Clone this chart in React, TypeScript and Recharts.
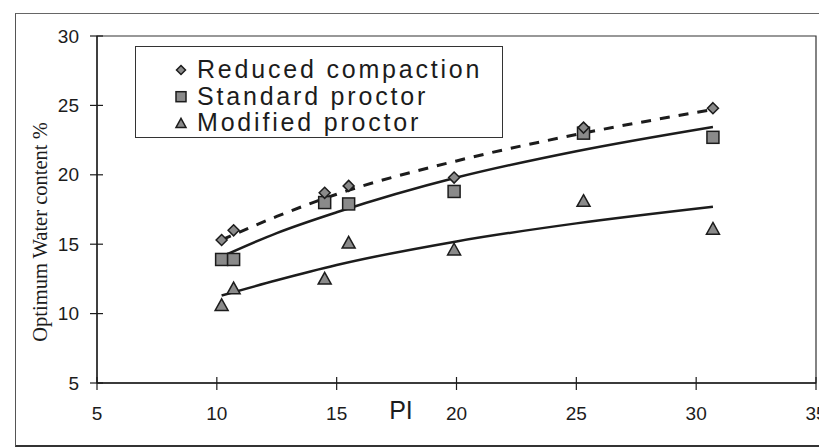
import React from "react";
import {
  ComposedChart,
  Line,
  Scatter,
  XAxis,
  YAxis,
  Legend,
  Label,
  ReferenceArea,
} from "recharts";

// PI on the x axis, optimum water content (%) on the y axis
const piValues = [10.2, 10.7, 14.5, 15.5, 19.9, 25.3, 30.7];
const reducedCompaction = [15.3, 16.0, 18.7, 19.2, 19.8, 23.4, 24.8];
const standardProctor = [13.9, 13.9, 18.0, 17.9, 18.8, 23.0, 22.7];
const modifiedProctor = [10.6, 11.8, 12.5, 15.1, 14.6, 18.1, 16.1];

// trend curves
const trendPI = [10.2, 12.5, 15, 20, 25, 30.7];
const reducedTrend = [15.3, 17.0, 18.6, 21.0, 22.9, 24.7];
const standardTrend = [14.1, 15.8, 17.3, 19.8, 21.7, 23.45];
const modifiedTrend = [11.3, 12.4, 13.5, 15.2, 16.5, 17.7];

const seriesNames = ["Reduced compaction", "Standard proctor", "Modified proctor"];
const xTicks = [5, 10, 15, 20, 25, 30, 35];
const yTicks = [5, 10, 15, 20, 25, 30];

const toPoints = (xs: number[], ys: number[]) => xs.map((x, i) => ({ x, y: ys[i] }));

const INK = "#1c1c1c";
const MARK_FILL = "#8a8a8a";
const SANS = "'Liberation Sans', Arial, sans-serif";

function Diamond({ cx, cy, s = 5.5 }: any) {
  return (
    <path
      d={`M${cx},${cy - s}L${cx + s},${cy}L${cx},${cy + s}L${cx - s},${cy}Z`}
      fill={MARK_FILL}
      stroke={INK}
      strokeWidth={1.5}
    />
  );
}

function Square({ cx, cy, s = 6 }: any) {
  return (
    <rect x={cx - s} y={cy - s} width={s * 2} height={s * 2} fill={MARK_FILL} stroke={INK} strokeWidth={1.5} />
  );
}

function Triangle({ cx, cy, s = 6.5 }: any) {
  return (
    <path
      d={`M${cx},${cy - s}L${cx + s},${cy + s * 0.8}L${cx - s},${cy + s * 0.8}Z`}
      fill={MARK_FILL}
      stroke={INK}
      strokeWidth={1.5}
    />
  );
}

const shapes = [Diamond, Square, Triangle];
const legendSizes = [4.5, 5, 5];

function XTick({ x, y, payload }: any) {
  return (
    <g>
      <line x1={x} x2={x} y1={y - 6} y2={y + 7} stroke={INK} strokeWidth={1.2} />
      <text x={x} y={y + 30} textAnchor="middle" dy="0.35em" fontSize={19} fontFamily={SANS} fill={INK}>
        {payload.value}
      </text>
    </g>
  );
}

function YTick({ x, y, payload }: any) {
  return (
    <g>
      <line x1={x - 7} x2={x + 6} y1={y} y2={y} stroke={INK} strokeWidth={1.2} />
      <text x={x - 18} y={y} textAnchor="end" dy="0.35em" fontSize={19} fontFamily={SANS} fill={INK}>
        {payload.value}
      </text>
    </g>
  );
}

function LegendBox() {
  return (
    <svg width={368} height={92}>
      {seriesNames.map((name, i) => {
        const Shape = shapes[i];
        const base = 31 + i * 26.7;
        return (
          <g key={name}>
            <Shape cx={45} cy={base - 8} s={legendSizes[i]} />
            <text x={61} y={base} fontSize={25} fontFamily={SANS} letterSpacing={2.8} fill={INK}>
              {name}
            </text>
          </g>
        );
      })}
    </svg>
  );
}

export default function App() {
  const reduced = toPoints(piValues, reducedCompaction);
  const standard = toPoints(piValues, standardProctor);
  const modified = toPoints(piValues, modifiedProctor);

  return (
    <div style={{ position: "absolute", left: 0, top: 0, width: 819, height: 448, background: "#fff", overflow: "hidden" }}>
      <div
        style={{
          position: "absolute",
          left: 15,
          top: 13,
          width: 810,
          height: 431,
          borderLeft: "1px solid #555",
          borderTop: "1px solid #666",
          borderBottom: "2px solid #333",
        }}
      />
      <ComposedChart
        width={819}
        height={448}
        margin={{ top: 36, right: 3, bottom: 0, left: 0 }}
        style={{ position: "absolute", left: 0, top: 0 }}
      >
        <XAxis
          type="number"
          dataKey="x"
          domain={[5, 35]}
          ticks={xTicks}
          interval={0}
          height={65}
          tickLine={false}
          tickSize={0}
          tickMargin={0}
          tick={<XTick />}
          axisLine={{ stroke: INK, strokeWidth: 1.3 }}
        >
          <Label
            content={() => (
              <text x={401} y={410} textAnchor="middle" dy="0.35em" fontSize={25} fontFamily={SANS} fill={INK}>
                PI
              </text>
            )}
          />
        </XAxis>
        <YAxis
          type="number"
          dataKey="y"
          domain={[5, 30]}
          ticks={yTicks}
          interval={0}
          width={97}
          tickLine={false}
          tickSize={0}
          tickMargin={0}
          tick={<YTick />}
          axisLine={{ stroke: INK, strokeWidth: 1.3 }}
        >
          <Label
            content={() => (
              <text
                x={40}
                y={232}
                transform="rotate(-90 40 232)"
                textAnchor="middle"
                dy="0.35em"
                fontSize={20.5}
                fontFamily="'Liberation Serif', 'Times New Roman', serif"
                fill={INK}
              >
                Optimum Water content %
              </text>
            )}
          />
        </YAxis>
        <ReferenceArea x1={5} x2={35} y1={5} y2={30} fill="none" stroke="#333" strokeWidth={1.2} />
        <Line
          data={toPoints(trendPI, reducedTrend)}
          dataKey="y"
          type="monotone"
          stroke={INK}
          strokeWidth={3}
          strokeDasharray="10 9"
          dot={false}
          legendType="none"
          isAnimationActive={false}
        />
        <Line
          data={toPoints(trendPI, standardTrend)}
          dataKey="y"
          type="monotone"
          stroke={INK}
          strokeWidth={2.5}
          dot={false}
          legendType="none"
          isAnimationActive={false}
        />
        <Line
          data={toPoints(trendPI, modifiedTrend)}
          dataKey="y"
          type="monotone"
          stroke={INK}
          strokeWidth={2.5}
          dot={false}
          legendType="none"
          isAnimationActive={false}
        />
        <Scatter name={seriesNames[1]} data={standard} dataKey="y" shape={(p: any) => <Square cx={p.cx} cy={p.cy} />} isAnimationActive={false} />
        <Scatter name={seriesNames[0]} data={reduced} dataKey="y" shape={(p: any) => <Diamond cx={p.cx} cy={p.cy} />} isAnimationActive={false} />
        <Scatter name={seriesNames[2]} data={modified} dataKey="y" shape={(p: any) => <Triangle cx={p.cx} cy={p.cy} />} isAnimationActive={false} />
        <Legend
          layout="vertical"
          align="center"
          verticalAlign="middle"
          wrapperStyle={{
            left: 135,
            top: 46,
            width: 368,
            height: 92,
            border: "1px solid #333",
            background: "#fff",
            boxSizing: "border-box",
          }}
          content={() => <LegendBox />}
        />
      </ComposedChart>
    </div>
  );
}
